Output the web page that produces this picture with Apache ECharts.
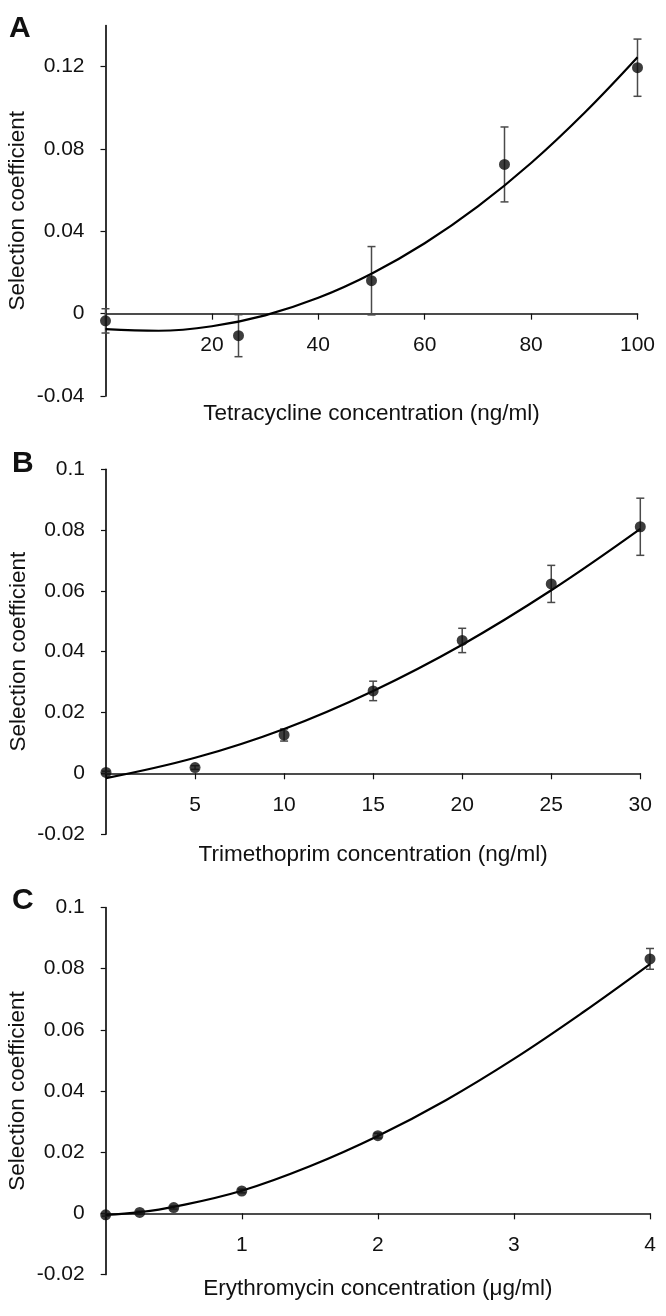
<!DOCTYPE html>
<html>
<head>
<meta charset="utf-8">
<script src="https://cdn.jsdelivr.net/npm/echarts@6/dist/echarts.min.js"></script>
<style>
html,body{margin:0;padding:0;background:#fff;}
#chart{width:666px;height:1316px;}
</style>
</head>
<body>
<div id="chart"></div>
<script>
// ---------- Panel A: Tetracycline ----------
const tetraConc = [0, 25, 50, 75, 100];
const tetraMean = [-0.0035, -0.0107, 0.0160, 0.0725, 0.1195];
const tetraErr  = [0.0059, 0.0102, 0.0166, 0.0182, 0.0139];
const tetraFitX = [0, 10, 20, 30, 40, 50, 60, 70, 80, 90, 100];
const tetraFitY = [-0.0075, -0.0083, -0.0061, -0.0008, 0.0077, 0.0194, 0.0342, 0.0521, 0.0732, 0.0975, 0.1246];
const tetraXTicks = [0, 20, 40, 60, 80, 100];
const tetraXLabels = [20, 40, 60, 80, 100];
const tetraYTicks = [-0.04, 0, 0.04, 0.08, 0.12];
const tetraYLabels = ['-0.04', '0', '0.04', '0.08', '0.12'];

// ---------- Panel B: Trimethoprim ----------
const trimConc = [0, 5, 10, 15, 20, 25, 30];
const trimMean = [0.0003, 0.0019, 0.0126, 0.0271, 0.0437, 0.0623, 0.0811];
const trimErr  = [0.0004, 0.0006, 0.0020, 0.0032, 0.0040, 0.0061, 0.0094];
const trimFitX = [0, 5, 10, 15, 20, 25, 30];
const trimFitY = [-0.0016, 0.0051, 0.0146, 0.0271, 0.0423, 0.0602, 0.0804];
const trimXTicks = [0, 5, 10, 15, 20, 25, 30];
const trimXLabels = [5, 10, 15, 20, 25, 30];
const trimYTicks = [-0.02, 0, 0.02, 0.04, 0.06, 0.08, 0.1];
const trimYLabels = ['-0.02', '0', '0.02', '0.04', '0.06', '0.08', '0.1'];

// ---------- Panel C: Erythromycin ----------
const eryConc = [0, 0.25, 0.5, 1, 2, 4];
const eryMean = [-0.0005, 0.0003, 0.0019, 0.0073, 0.0254, 0.0832];
const eryErr  = [0.0004, 0.0004, 0.0005, 0.0006, 0.0008, 0.0034];
const eryFitX = [0, 0.25, 0.5, 1, 1.5, 2, 2.5, 3, 3.5, 4];
const eryFitY = [-0.0005, 0.0004, 0.0021, 0.0074, 0.0154, 0.0253, 0.0370, 0.0505, 0.0655, 0.0815];
const eryXTicks = [0, 1, 2, 3, 4];
const eryXLabels = [1, 2, 3, 4];
const eryYTicks = [-0.02, 0, 0.02, 0.04, 0.06, 0.08, 0.1];
const eryYLabels = ['-0.02', '0', '0.02', '0.04', '0.06', '0.08', '0.1'];

const panelLetters = ['A', 'B', 'C'];
const xNames = ['Tetracycline concentration (ng/ml)', 'Trimethoprim concentration (ng/ml)', 'Erythromycin concentration (\u03BCg/ml)'];
const yName = 'Selection coefficient';

const FONT = "'Liberation Sans', Arial, Helvetica, sans-serif";
const INK = '#111';

const panels = [
  {conc: tetraConc, mean: tetraMean, err: tetraErr, fx: tetraFitX, fy: tetraFitY,
   xTicks: tetraXTicks, xLabels: tetraXLabels, yTicks: tetraYTicks, yLabels: tetraYLabels,
   xmin: 0, xmax: 100, xint: 20, ymin: -0.04, ymax: 0.14, yint: 0.04,
   grid: {left: 105.5, right: 28.5, top: 25.5, bottom: 920}, nameGap: 6},
  {conc: trimConc, mean: trimMean, err: trimErr, fx: trimFitX, fy: trimFitY,
   xTicks: trimXTicks, xLabels: trimXLabels, yTicks: trimYTicks, yLabels: trimYLabels,
   xmin: 0, xmax: 30, xint: 5, ymin: -0.02, ymax: 0.1, yint: 0.02,
   grid: {left: 106, right: 25.7, top: 469.3, bottom: 481.9}, nameGap: 9},
  {conc: eryConc, mean: eryMean, err: eryErr, fx: eryFitX, fy: eryFitY,
   xTicks: eryXTicks, xLabels: eryXLabels, yTicks: eryYTicks, yLabels: eryYLabels,
   xmin: 0, xmax: 4, xint: 1, ymin: -0.02, ymax: 0.1, yint: 0.02,
   grid: {left: 105.7, right: 16, top: 907.5, bottom: 41.5}, nameGap: 3}
];

const letterPos = [{left: 9, top: 14}, {left: 12, top: 449}, {left: 12, top: 886}];

function errorBarRender(params, api) {
  const x = api.value(0), y = api.value(1), e = api.value(2);
  const top = api.coord([x, y + e]);
  const bot = api.coord([x, y - e]);
  const hw = 4;
  const st = {stroke: '#4a4a4a', lineWidth: 1.5};
  return {type: 'group', children: [
    {type: 'line', shape: {x1: top[0], y1: top[1], x2: bot[0], y2: bot[1]}, style: st},
    {type: 'line', shape: {x1: top[0] - hw, y1: top[1], x2: top[0] + hw, y2: top[1]}, style: st},
    {type: 'line', shape: {x1: bot[0] - hw, y1: bot[1], x2: bot[0] + hw, y2: bot[1]}, style: st}
  ]};
}

const grids = [], xAxes = [], yAxes = [], series = [], graphics = [];
panels.forEach((p, i) => {
  grids.push(Object.assign({containLabel: false, outerBoundsMode: 'none'}, p.grid));
  const labelMap = (ticks, labels) => (v) => {
    let best = 0, d = Infinity;
    ticks.forEach((t, k) => { const dd = Math.abs(t - v); if (dd < d) { d = dd; best = k; } });
    return labels[best];
  };
  // main x axis (moved to the y = 0 line after layout)
  xAxes.push({
    type: 'value', gridIndex: i, min: p.xmin, max: p.xmax, interval: p.xint,
    position: 'bottom', offset: 0,
    axisLine: {onZero: false, lineStyle: {color: INK, width: 1.7}},
    axisTick: {show: true, inside: false, length: 6, customValues: p.xTicks, lineStyle: {color: INK, width: 1.2}},
    axisLabel: {customValues: p.xLabels, margin: 21, color: INK, fontFamily: FONT, fontSize: 21,
      formatter: (v) => String(v)},
    splitLine: {show: false}
  });
  // name-only x axis at bottom of the grid
  xAxes.push({
    type: 'value', gridIndex: i, min: p.xmin, max: p.xmax, position: 'bottom',
    axisLine: {show: false, onZero: false}, axisTick: {show: false}, axisLabel: {show: false},
    splitLine: {show: false},
    name: xNames[i], nameLocation: 'middle', nameGap: p.nameGap, nameMoveOverlap: false,
    nameTextStyle: {color: INK, fontFamily: FONT, fontSize: 22.5}
  });
  yAxes.push({
    type: 'value', gridIndex: i, min: p.ymin, max: p.ymax, interval: p.yint,
    axisLine: {show: true, onZero: false, lineStyle: {color: INK, width: 1.7}},
    axisTick: {show: true, inside: false, length: 5, customValues: p.yTicks, lineStyle: {color: INK, width: 1.2}},
    axisLabel: {customValues: p.yTicks, margin: 21, color: INK, fontFamily: FONT, fontSize: 21,
      formatter: labelMap(p.yTicks, p.yLabels)},
    splitLine: {show: false},
    name: yName, nameLocation: 'middle', nameRotate: 90, nameGap: 76, nameMoveOverlap: false,
    nameTextStyle: {color: INK, fontFamily: FONT, fontSize: 22.5}
  });
  const xi = i * 2;
  series.push({
    type: 'line', xAxisIndex: xi, yAxisIndex: i, smooth: 0.4, showSymbol: false, symbol: 'none',
    data: p.fx.map((x, k) => [x, p.fy[k]]),
    lineStyle: {color: '#000', width: 2.2}, z: 3, silent: true
  });
  series.push({
    type: 'custom', xAxisIndex: xi, yAxisIndex: i, renderItem: errorBarRender,
    encode: {x: 0, y: 1}, clip: false,
    data: p.conc.map((x, k) => [x, p.mean[k], p.err[k]]), z: 2, silent: true
  });
  series.push({
    type: 'scatter', xAxisIndex: xi, yAxisIndex: i, symbol: 'circle', symbolSize: 11,
    itemStyle: {color: '#0d0d0d'}, clip: false,
    data: p.conc.map((x, k) => [x, p.mean[k]]), z: 4, silent: true
  });
  graphics.push({
    type: 'text', left: letterPos[i].left, top: letterPos[i].top,
    style: {text: panelLetters[i], fill: INK, font: "bold 30px 'Liberation Sans', Arial, sans-serif"}
  });
});

const chart = echarts.init(document.getElementById('chart'), null, {renderer: 'canvas'});
chart.setOption({
  animation: false,
  backgroundColor: '#fff',
  grid: grids, xAxis: xAxes, yAxis: yAxes, series: series, graphic: graphics
});
// place each main x axis on the y = 0 line, using the library's own y scale
const offs = xAxes.map(() => ({}));
panels.forEach((p, i) => {
  const zeroPx = chart.convertToPixel({yAxisIndex: i}, 0);
  const minPx = chart.convertToPixel({yAxisIndex: i}, p.ymin);
  offs[i * 2] = {offset: -(minPx - zeroPx)};
});
chart.setOption({xAxis: offs});
</script>
</body>
</html>
